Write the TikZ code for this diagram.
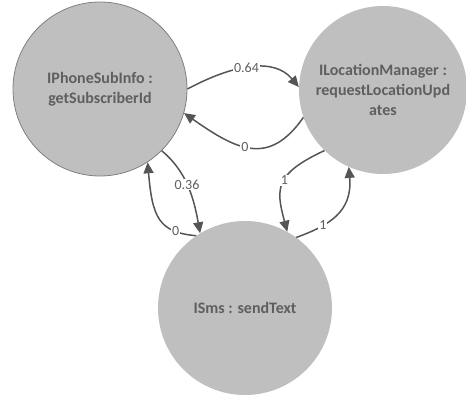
\documentclass[tikz,border=0pt]{standalone}
\usepackage{fontspec}
\setmainfont{Carlito}
\usetikzlibrary{arrows.meta}
\definecolor{nodefill}{HTML}{BFBFBF}
\definecolor{txt}{HTML}{5F5F5F}
\definecolor{edgecol}{HTML}{555555}
\definecolor{rim}{HTML}{808080}
\begin{document}
\begin{tikzpicture}[x=1pt,y=1pt,
 state/.style={circle, fill=nodefill, minimum size=174pt, inner sep=0pt, text=txt,
   font=\fontsize{16}{20}\selectfont\bfseries, align=center},
 link/.style={draw=edgecol, line width=1.5pt, -{Triangle[length=11pt,width=10pt]}},
 lab/.style={fill=white, inner sep=1pt, text=txt, font=\fontsize{14}{14}\selectfont}]
\useasboundingbox (0,0) rectangle (466,-398);
\node[state, draw=rim, line width=0.8pt] (L) at (100,-89) {IPhoneSubInfo :\\getSubscriberId};
\node[state, minimum size=168pt] (R) at (383,-90) {ILocationManager :\\requestLocationUpd\\ates};
\node[state] (B) at (245,-308) {ISms : sendText};
\draw[link] (L.0) .. controls +(28:55) and +(130:38) .. node[lab, pos=0.45] {0.64} (R.178);
\draw[link] (R.199) .. controls +(235:60) and +(-35:65) .. node[lab, pos=0.55] {0} (L.-16);
\draw[link] (L.-45) .. controls +(-40:30) and +(100:40) .. node[lab, pos=0.5] {0.36} (B.121);
\draw[link] (B.124) .. controls +(175:38) and +(-85:55) .. node[lab, pos=0.22] {0} (L.-57);
\draw[link] (R.226) .. controls +(205:55) and +(105:45) .. node[lab, pos=0.45] {1} (B.61);
\draw[link] (B.54) .. controls +(20:35) and +(-85:45) .. node[lab, pos=0.3] {1} (R.246);
\end{tikzpicture}
\end{document}
